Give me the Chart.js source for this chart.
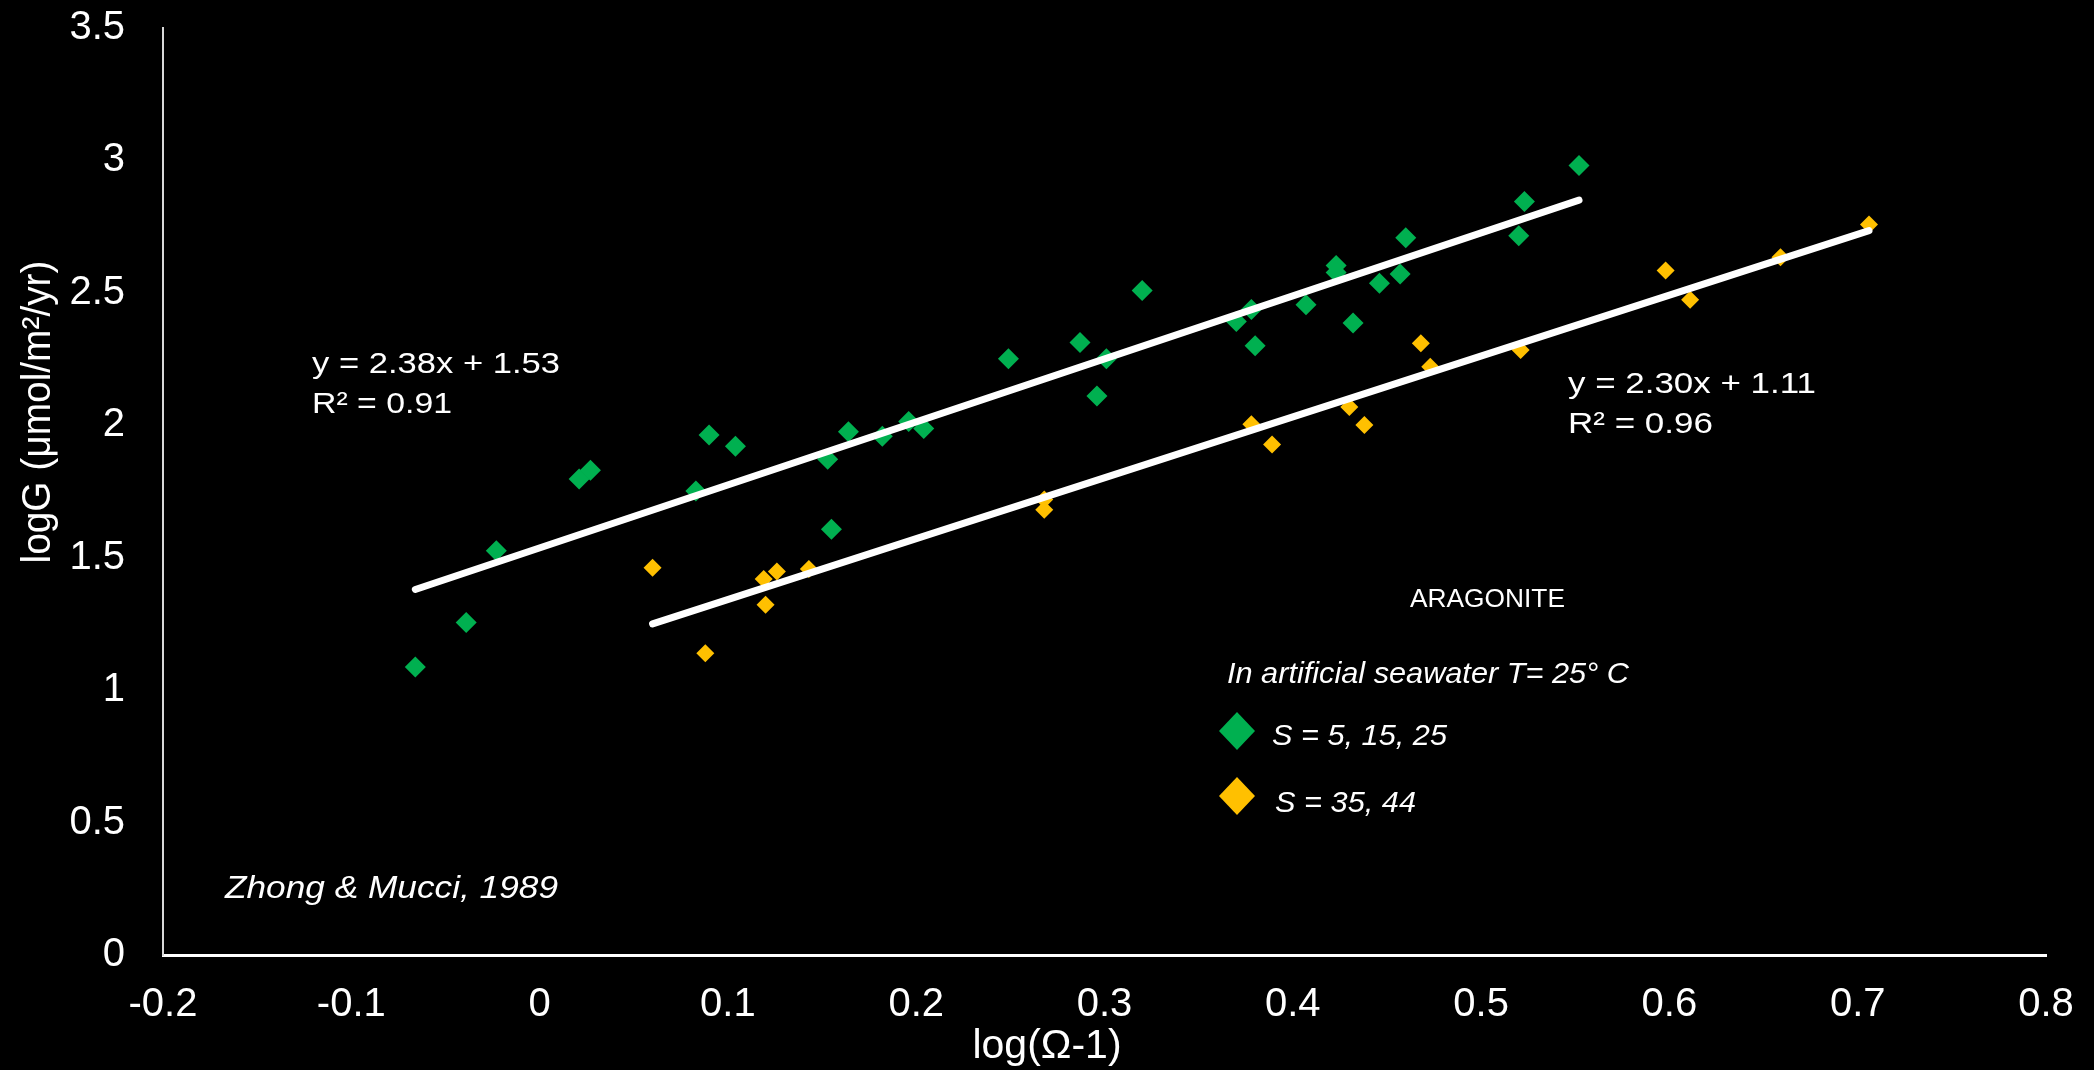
<!DOCTYPE html>
<html><head><meta charset="utf-8">
<script src="https://cdn.jsdelivr.net/npm/chart.js@4.4.1/dist/chart.umd.min.js"></script>
<style>html,body{margin:0;padding:0;background:#000;overflow:hidden}</style>
</head><body>
<canvas id="c" width="2094" height="1070"></canvas>
<script>
// ---- data ----
const greenX = [-0.066,-0.039,-0.023,0.021,0.027,0.083,0.090,0.104,0.153,0.155,0.164,0.182,0.196,0.204,0.249,0.287,0.296,0.301,0.320,0.370,0.378,0.380,0.407,0.423,0.423,0.432,0.446,0.457,0.460,0.520,0.523,0.552];
const greenY = [1.087,1.255,1.526,1.797,1.830,1.752,1.963,1.921,1.872,1.607,1.976,1.959,2.014,1.988,2.251,2.313,2.111,2.251,2.509,2.392,2.437,2.300,2.455,2.603,2.577,2.386,2.536,2.571,2.708,2.716,2.845,2.981];
const yellowX = [0.060,0.088,0.119,0.120,0.126,0.143,0.268,0.268,0.378,0.389,0.430,0.438,0.468,0.473,0.521,0.598,0.611,0.659,0.706];
const yellowY = [1.462,1.139,1.420,1.322,1.448,1.457,1.720,1.681,2.004,1.927,2.069,2.001,2.310,2.221,2.284,2.584,2.474,2.634,2.758];
const greenTrendX = [-0.066, 0.552];
const greenTrendY = [1.38, 2.85];
const yellowTrendX = [0.060, 0.706];
const yellowTrendY = [1.25, 2.735];
const xTickValues = [-0.2,-0.1,0,0.1,0.2,0.3,0.4,0.5,0.6,0.7,0.8];
const xTickLabels = ['-0.2','-0.1','0','0.1','0.2','0.3','0.4','0.5','0.6','0.7','0.8'];
const yTickValues = [0,0.5,1,1.5,2,2.5,3,3.5];
const yTickLabels = ['0','0.5','1','1.5','2','2.5','3','3.5'];
const seriesNames = ['S = 5, 15, 25','S = 35, 44'];
const xTitle = 'log(Ω-1)';
const yTitle = 'logG (μmol/m²/yr)';

const GREEN = '#00B050';
const YELLOW = '#FFC000';
const FONT = '"Liberation Sans", Arial, sans-serif';

function pts(xs, ys){ return xs.map((x,i)=>({x:x, y:ys[i]})); }

function fitText(ctx, text, x, y, targetW, align){
  const w = ctx.measureText(text).width;
  const sx = targetW ? targetW / w : 1;
  ctx.save();
  ctx.translate(x, y);
  ctx.scale(sx, 1);
  ctx.textAlign = align || 'left';
  ctx.fillText(text, 0, 0);
  ctx.restore();
}

const bgPlugin = {
  id: 'bg',
  beforeDraw(chart){
    const c = chart.ctx;
    c.save(); c.fillStyle = '#000'; c.fillRect(0,0,chart.width,chart.height); c.restore();
  }
};

const textPlugin = {
  id: 'texts',
  afterDraw(chart){
    const c = chart.ctx;
    c.save();
    c.fillStyle = '#fff';
    c.textBaseline = 'alphabetic';
    // axis titles
    c.font = '41px ' + FONT;
    c.textAlign = 'center';
    c.fillText(xTitle, 1047, 1058);
    c.save();
    c.translate(50, 412);
    c.rotate(-Math.PI/2);
    c.font = '40px ' + FONT;
    fitText(c, yTitle, 0, 0, 303, 'center');
    c.restore();
    // trend equations
    c.font = '30px ' + FONT;
    fitText(c, 'y = 2.38x + 1.53', 312, 373, 248);
    fitText(c, 'R² = 0.91', 312, 413, 140);
    fitText(c, 'y = 2.30x + 1.11', 1568, 393, 248);
    fitText(c, 'R² = 0.96', 1568, 433, 145);
    // ARAGONITE
    c.font = '26px ' + FONT;
    fitText(c, 'ARAGONITE', 1410, 607, 155);
    // legend header
    c.font = 'italic 29px ' + FONT;
    fitText(c, 'In artificial seawater T= 25° C', 1227, 683, 402);
    // legend entries
    const entries = [
      {name: seriesNames[0], color: chart.data.datasets[2].backgroundColor, cy: 731, tx: 1272, by: 745, w: 175},
      {name: seriesNames[1], color: chart.data.datasets[3].backgroundColor, cy: 796, tx: 1275, by: 812, w: 141}
    ];
    entries.forEach(e => {
      c.fillStyle = e.color;
      c.beginPath();
      c.moveTo(1237 - 18, e.cy);
      c.lineTo(1237, e.cy - 19);
      c.lineTo(1237 + 18, e.cy);
      c.lineTo(1237, e.cy + 19);
      c.closePath();
      c.fill();
      c.fillStyle = '#fff';
      c.font = 'italic 29px ' + FONT;
      fitText(c, e.name, e.tx, e.by, e.w);
    });
    // source
    c.font = 'italic 31px ' + FONT;
    fitText(c, 'Zhong & Mucci, 1989', 225, 898, 333);
    c.restore();
  }
};

new Chart(document.getElementById('c'), {
  type: 'scatter',
  data: {
    datasets: [
      {label: 'trend1', data: pts(greenTrendX, greenTrendY), showLine: true, borderColor: '#fff', borderWidth: 7, borderCapStyle: 'round', pointRadius: 0, fill: false},
      {label: 'trend2', data: pts(yellowTrendX, yellowTrendY), showLine: true, borderColor: '#fff', borderWidth: 7, borderCapStyle: 'round', pointRadius: 0, fill: false},
      {label: seriesNames[0], data: pts(greenX, greenY), pointStyle: 'rectRot', pointRadius: 10.5, backgroundColor: GREEN, borderColor: GREEN, borderWidth: 0},
      {label: seriesNames[1], data: pts(yellowX, yellowY), pointStyle: 'rectRot', pointRadius: 9, backgroundColor: YELLOW, borderColor: YELLOW, borderWidth: 0}
    ]
  },
  options: {
    responsive: false,
    animation: false,
    devicePixelRatio: 1,
    layout: {padding: {left: 0, right: 48, top: 28, bottom: 0}},
    plugins: {legend: {display: false}, tooltip: {enabled: false}, title: {display: false}},
    scales: {
      x: {
        type: 'linear', min: -0.2, max: 0.8,
        grid: {display: false, drawTicks: false},
        border: {display: true, color: '#ffffff', width: 3},
        afterBuildTicks: s => { s.ticks = xTickValues.map(v => ({value: v})); },
        afterFit: s => { s.height = 115; s.paddingLeft = 0; s.paddingRight = 0; },
        ticks: {color: '#fff', font: {family: FONT, size: 40}, padding: 26, maxRotation: 0, autoSkip: false,
          callback: (v, i) => xTickLabels[i]}
      },
      y: {
        type: 'linear', min: 0, max: 3.5,
        grid: {display: false, drawTicks: false},
        border: {display: true, color: '#d9d9d9', width: 2},
        afterBuildTicks: s => { s.ticks = yTickValues.map(v => ({value: v})); },
        afterFit: s => { s.width = 163; s.paddingTop = 0; s.paddingBottom = 0; },
        ticks: {color: '#fff', font: {family: FONT, size: 40}, padding: 38, autoSkip: false,
          callback: (v, i) => yTickLabels[i]}
      }
    }
  },
  plugins: [bgPlugin, textPlugin]
});
</script>
</body></html>
